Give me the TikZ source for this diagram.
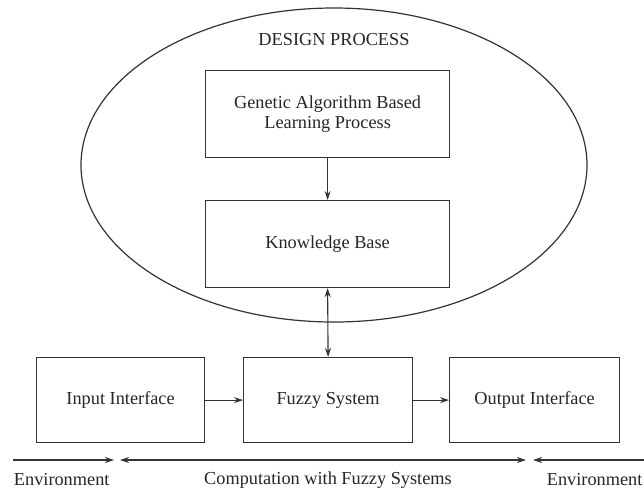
\documentclass[tikz,border=0pt]{standalone}
\usepackage{fontspec}
\setmainfont{Liberation Serif}
\usetikzlibrary{arrows.meta,shapes.geometric}
\begin{document}
\begin{tikzpicture}[x=1pt,y=-1pt,
  line width=1.2pt, draw=black!80,
  box/.style={draw=black!80, line width=1.2pt, inner sep=0pt, anchor=north west},
  lbl/.style={font=\fontsize{18.3}{21}\selectfont, text=black!85},
  arr/.style={-{Stealth[length=9pt,width=6pt]}, draw=black!80, line width=1.1pt},
  barr/.style={{Stealth[length=9pt,width=6pt]}-{Stealth[length=9pt,width=6pt]}, draw=black!80, line width=1.1pt}]
\useasboundingbox (0,0) rectangle (644,491);
\fill[white] (0,0) rectangle (644,491);
% ellipse
\node[draw=black!80, line width=1.2pt, shape=ellipse, minimum width=506pt, minimum height=314pt, inner sep=0pt] (design) at (334,165) {};
\node[lbl] (dtitle) at (334,40) {DESIGN PROCESS};
% boxes
\node[box, minimum width=244pt, minimum height=87pt] (ga) at (205,70) {};
\node[lbl, align=center] at (ga.center) {Genetic Algorithm Based\\[-1pt]Learning Process};
\node[box, minimum width=244pt, minimum height=87pt] (kb) at (205,200) {};
\node[lbl] at (kb.center) {Knowledge Base};
\node[box, minimum width=168pt, minimum height=85pt] (in) at (36,357) {};
\node[lbl] at (in.center) {Input Interface};
\node[box, minimum width=169pt, minimum height=85pt] (fs) at (243,357) {};
\node[lbl] at (fs.center) {Fuzzy System};
\node[box, minimum width=170pt, minimum height=85pt] (out) at (449,357) {};
\node[lbl] at (out.center) {Output Interface};
% connectors
\draw[arr] (ga.south) -- (kb.north);
\draw[barr] (kb.south) -- (fs.north);
\draw[arr] (in.east) -- (fs.west);
\draw[arr] (fs.east) -- (out.west);
% environment arrows
\coordinate (e1) at (13,460);
\coordinate (e2) at (114,460);
\coordinate (c1) at (120,460);
\coordinate (c2) at (526,460);
\coordinate (r1) at (644,460);
\coordinate (r2) at (533,460);
\draw[arr] (e1) -- (e2);
\draw[barr] (c1) -- (c2);
\draw[arr] (r1) -- (r2);
\node[lbl, anchor=west] (envl) at (10,480) {Environment};
\node[lbl] (comp) at (328,480) {Computation with Fuzzy Systems};
\node[lbl, anchor=east, inner xsep=0pt] (envr) at (643,480) {Environment};
\end{tikzpicture}
\end{document}
